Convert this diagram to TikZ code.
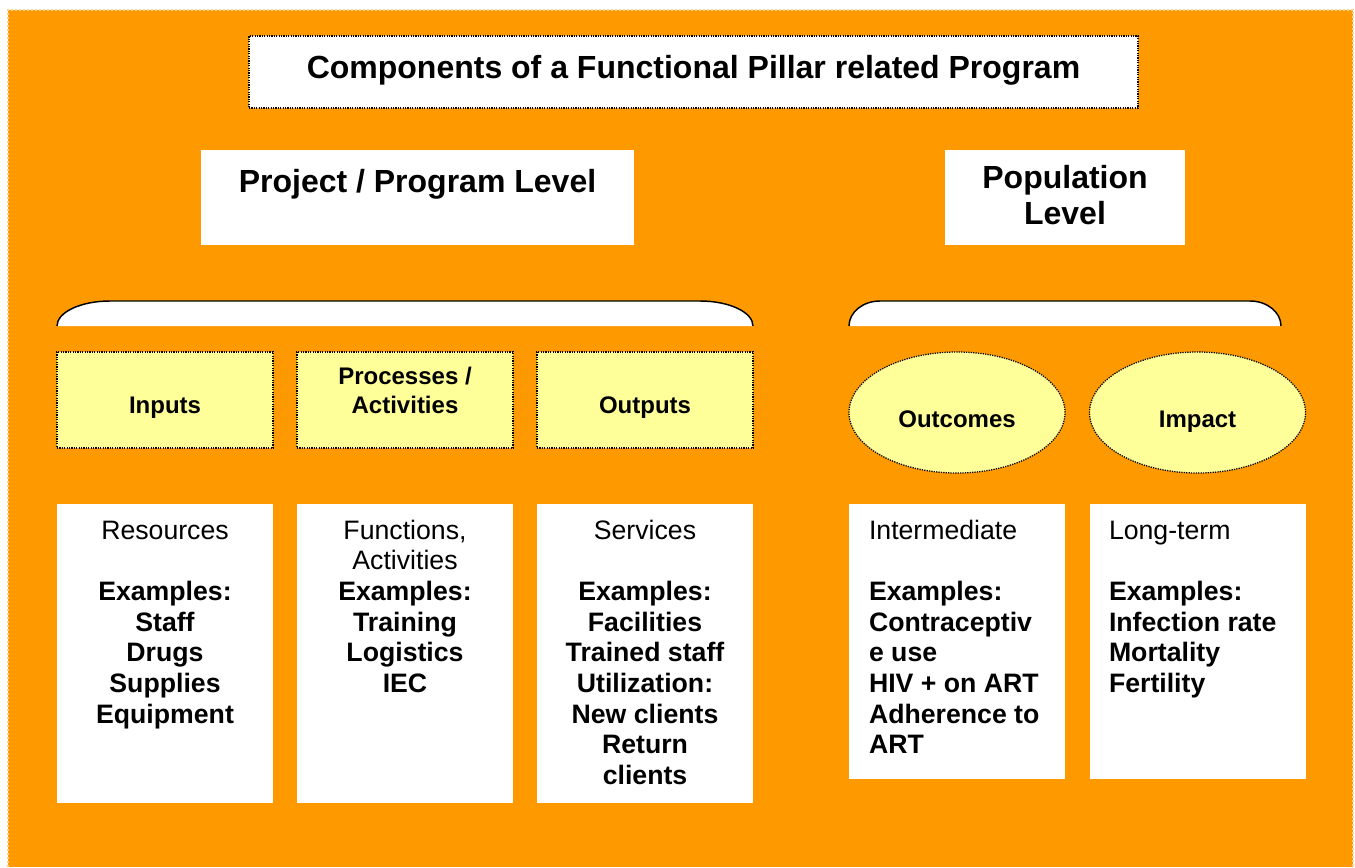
\documentclass[tikz,border=0pt]{standalone}
\usepackage{fontspec}
\setmainfont{Liberation Sans}
\usetikzlibrary{shapes.geometric}
\definecolor{bgorange}{RGB}{255,153,0}
\definecolor{paleyellow}{RGB}{255,255,153}
\definecolor{rimorange}{RGB}{255,210,150}
% font sizes
\newcommand\titlefont{\fontsize{24pt}{27.6pt}\selectfont\bfseries}
\newcommand\labelfont{\fontsize{18pt}{21.75pt}\selectfont\bfseries}
\newcommand\bodyfont{\fontsize{20pt}{23pt}\selectfont}
% stacked lines, aligned on the baseline of the first line
\newcommand\stackedlines[2]{\begin{tabular}[t]{@{}#1@{}}#2\end{tabular}}
\begin{document}
\begin{tikzpicture}[x=0.75pt,y=-0.75pt,
  dotborder/.style={draw=black,line width=0.95pt,dash pattern=on 0.95pt off 0.85pt},
  whitebox/.style={rectangle,fill=white,draw=none,inner sep=0pt,outer sep=0pt},
  titlebox/.style={whitebox,dotborder,minimum width=666.75pt,minimum height=54pt},
  levelbox/.style={whitebox,minimum height=71.25pt},
  stagebox/.style={rectangle,fill=paleyellow,dotborder,inner sep=0pt,
    minimum width=162pt,minimum height=72pt},
  resultellipse/.style={ellipse,fill=paleyellow,dotborder,inner sep=0pt,
    minimum width=162pt,minimum height=90.75pt},
  detailbox/.style={whitebox,minimum width=162pt},
  txt/.style={inner sep=0pt,outer sep=0pt,anchor=base,text=black},
  bracket/.style={draw=black,line width=1.1pt},
]
\useasboundingbox (0,0) rectangle (1355,867);

% background panel
\fill[bgorange] (8,10) rectangle (1353,867);
\draw[rimorange,line width=0.9pt,dash pattern=on 1.5pt off 1.5pt]
  (8,867) -- (8,10) -- (1353,10) -- (1353,867);

% title
\node[titlebox] (title) at (693.5,72) {};
\node[txt,font=\titlefont] (titletext) at (693.5,79)
  {Components of a Functional Pillar related Program};

% level headings
\node[levelbox,minimum width=324.75pt] (projlevel) at (417.5,197.5) {};
\node[txt,font=\titlefont] (projleveltext) at (417.5,192)
  {Project / Program Level};
\node[levelbox,minimum width=180pt] (poplevel) at (1065,197.5) {};
\node[txt,font=\titlefont] (popleveltext) at (1065,188)
  {\stackedlines{c}{Population\\Level}};

% brackets over the groups
\fill[white] (57,326) .. controls (57,312.2) and (80.7,301) .. (110,301)
  -- (700,301) .. controls (729.3,301) and (753,312.2) .. (753,326) -- cycle;
\draw[bracket] (57,326) .. controls (57,312.2) and (80.7,301) .. (110,301)
  -- (700,301) .. controls (729.3,301) and (753,312.2) .. (753,326);
\fill[white] (849,326) .. controls (849,312.2) and (862.9,301) .. (880,301)
  -- (1250,301) .. controls (1267.1,301) and (1281,312.2) .. (1281,326) -- cycle;
\draw[bracket] (849,326) .. controls (849,312.2) and (862.9,301) .. (880,301)
  -- (1250,301) .. controls (1267.1,301) and (1281,312.2) .. (1281,326);

% stages
\node[stagebox] (inputs) at (165,400) {};
\node[txt,font=\labelfont] (inputstext) at (165,413) {Inputs};
\node[stagebox] (processes) at (405,400) {};
\node[txt,font=\labelfont] (processestext) at (405,384)
  {\stackedlines{c}{Processes /\\Activities}};
\node[stagebox] (outputs) at (645,400) {};
\node[txt,font=\labelfont] (outputstext) at (645,413) {Outputs};
\node[resultellipse] (outcomes) at (957,412.5) {};
\node[txt,font=\labelfont] (outcomestext) at (957,427) {Outcomes};
\node[resultellipse] (impact) at (1197.5,412.5) {};
\node[txt,font=\labelfont] (impacttext) at (1197.5,427) {Impact};

% detail boxes
\node[detailbox,minimum height=224.25pt] (resources) at (165,653.5) {};
\node[txt,font=\bodyfont] (resourcestext) at (165,539)
  {\stackedlines{c}{Resources\\ \\ \bfseries Examples:\\ \bfseries Staff\\
   \bfseries Drugs\\ \bfseries Supplies\\ \bfseries Equipment}};
\node[detailbox,minimum height=224.25pt] (functions) at (405,653.5) {};
\node[txt,font=\bodyfont] (functionstext) at (405,539)
  {\stackedlines{c}{Functions,\\Activities\\ \bfseries Examples:\\
   \bfseries Training\\ \bfseries Logistics\\ \bfseries IEC}};
\node[detailbox,minimum height=224.25pt] (services) at (645,653.5) {};
\node[txt,font=\bodyfont] (servicestext) at (645,539)
  {\stackedlines{c}{Services\\ \\ \bfseries Examples:\\ \bfseries Facilities\\
   \bfseries Trained staff\\ \bfseries Utilization:\\ \bfseries New clients\\
   \bfseries Return\\ \bfseries clients}};
\node[detailbox,minimum height=206.25pt] (intermediate) at (957,641.5) {};
\node[txt,font=\bodyfont,anchor=base west] (intermediatetext) at (869,539)
  {\stackedlines{l}{Intermediate\\ \\ \bfseries Examples:\\ \bfseries Contraceptiv\\
   \bfseries e use\\ \bfseries HIV + on ART\\ \bfseries Adherence to\\ \bfseries ART}};
\node[detailbox,minimum height=206.25pt] (longterm) at (1197.5,641.5) {};
\node[txt,font=\bodyfont,anchor=base west] (longtermtext) at (1109,539)
  {\stackedlines{l}{Long-term\\ \\ \bfseries Examples:\\ \bfseries Infection rate\\
   \bfseries Mortality\\ \bfseries Fertility}};
\end{tikzpicture}
\end{document}
